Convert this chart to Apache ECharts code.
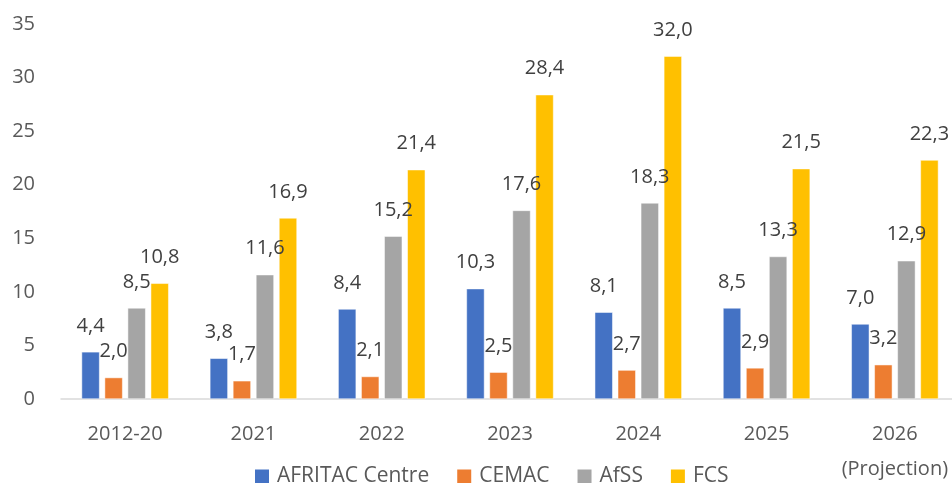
<!DOCTYPE html>
<html><head><meta charset="utf-8">
<script src="https://cdn.jsdelivr.net/npm/echarts@6/dist/echarts.min.js"></script>
<style>html,body{margin:0;padding:0;background:#fff}#c{width:952px;height:483px}</style>
</head><body><div id="c"></div>
<script>
const categories = ['2012-20','2021','2022','2023','2024','2025','2026\n(Projection)'];
const afritac = [4.4, 3.8, 8.4, 10.3, 8.1, 8.5, 7.0];
const cemac = [2.0, 1.7, 2.1, 2.5, 2.7, 2.9, 3.2];
const afss = [8.5, 11.6, 15.2, 17.6, 18.3, 13.3, 12.9];
const fcs = [10.8, 16.9, 21.4, 28.4, 32.0, 21.5, 22.3];
const yTicks = [0,5,10,15,20,25,30,35];
const seriesNames = ['AFRITAC Centre','CEMAC','AfSS','FCS'];
const colors = ['#4472C4','#ED7D31','#A5A5A5','#FFC000'];
const FONT = 'Open Sans';
const chart = echarts.init(document.getElementById('c'));
const mk = (name, data, color) => ({
  name, type:'bar', data, barWidth:18, barGap:'28%',
  itemStyle:{color, borderColor:'#fff', borderWidth:0.5},
  label:{show:true, position:'top', distance:16, color:'#404040', fontSize:20, fontFamily:FONT,
    formatter:p=>p.value.toFixed(1).replace('.',',')}
});
chart.setOption({
  animation:false,
  textStyle:{fontFamily:FONT},
  grid:{left:61, right:-7, top:24, bottom:84, outerBoundsMode:'none', containLabel:false},
  legend:{top:461, left:248, itemWidth:16, itemHeight:16, itemGap:26, icon:'rect',
    textStyle:{fontSize:21, color:'#595959', fontFamily:FONT, padding:[0,0,0,2]}, data:seriesNames},
  xAxis:{type:'category', data:categories,
    axisLine:{lineStyle:{color:'#D9D9D9', width:1.5}}, axisTick:{show:false},
    axisLabel:{interval:0, fontSize:20, color:'#595959', margin:18, lineHeight:35, fontFamily:FONT}},
  yAxis:{type:'value', min:yTicks[0], max:yTicks[yTicks.length-1], interval:5,
    splitLine:{show:false}, axisLine:{show:false}, axisTick:{show:false},
    axisLabel:{fontSize:20, color:'#595959', margin:26, fontFamily:FONT}},
  series:[mk(seriesNames[0], afritac, colors[0]), mk(seriesNames[1], cemac, colors[1]),
          mk(seriesNames[2], afss, colors[2]), mk(seriesNames[3], fcs, colors[3])]
});
</script></body></html>
